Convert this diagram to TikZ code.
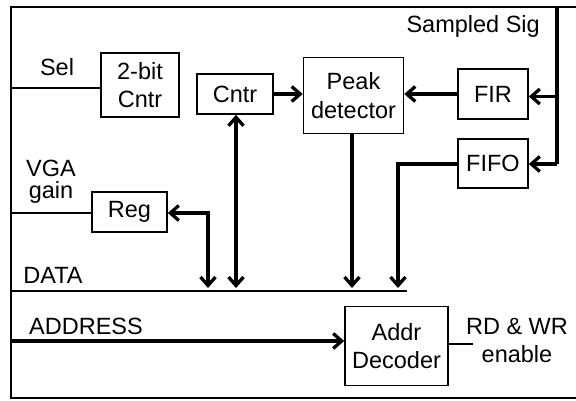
\documentclass[tikz,border=0pt]{standalone}
\usepackage{fontspec}
\setmainfont{Liberation Sans}
\usetikzlibrary{arrows.meta}
\begin{document}
\begin{tikzpicture}[x=1pt,y=-1pt,
  every node/.style={font=\fontsize{23.5}{28.5}\selectfont, inner sep=0pt},
  blk/.style={draw, line width=1.6pt, align=center},
  thin/.style={line width=2pt},
  sig/.style={line width=3.3pt, -{Straight Barb[length=8.5pt,width=15pt]}},
  bisig/.style={line width=3.3pt, {Straight Barb[length=8.5pt,width=15pt]}-{Straight Barb[length=8.5pt,width=15pt]}},
  lbl/.style={anchor=base}]
\useasboundingbox (0,0) rectangle (576,401);
% blocks
\node[blk, minimum width=78pt, minimum height=64pt] (cnt2) at (140,85) {2-bit\\Cntr};
\node[blk, minimum width=76pt, minimum height=40pt] (cntr) at (235,94) {Cntr};
\node[blk, minimum width=100pt, minimum height=76pt] (peak) at (353.5,95.5) {Peak\\detector};
\node[blk, minimum width=70pt, minimum height=50pt] (fir) at (493,94) {FIR};
\node[blk, minimum width=70pt, minimum height=49pt] (fifo) at (493,163.5) {FIFO};
\node[blk, minimum width=75pt, minimum height=40pt] (reg) at (129.5,212) {Reg};
\node[blk, minimum width=103pt, minimum height=79pt] (addr) at (396.5,346) {Addr\\Decoder};
% frame
\coordinate (tl) at (11,7);
\coordinate (tr) at (576,7);
\coordinate (bl) at (11,398);
\coordinate (br) at (576,398);
\coordinate (ss) at (557,7);
\draw[thin] (tr) -- (tl) -- (bl) -- (br);
% labels
\node[anchor=base east] (lss) at (540,33) {Sampled Sig};
\node[lbl] (lsel) at (57,76) {Sel};
\node[lbl] (lvga) at (51,177) {VGA};
\node[lbl] (lgain) at (51,199) {gain};
\node[lbl] (ldata) at (53,283) {DATA};
\node[lbl] (laddr) at (86,334) {ADDRESS};
\node[lbl] (lrd) at (517,334) {RD \& WR};
\node[lbl] (len) at (517,362) {enable};
% coordinates
\coordinate (sel) at (11,88);
\coordinate (vga) at (11,213);
\coordinate (d0) at (11,291);
\coordinate (d1) at (407,291);
\coordinate (a0) at (11,341);
\coordinate (rd) at (473,344);
\coordinate (fifoturn) at (398,164);
\coordinate (regturn) at (208,213);
% thin lines
\draw[thin] (sel) -- (sel -| cnt2.west);
\draw[thin] (vga) -- (vga -| reg.west);
\draw[line width=2.3pt] (d0) -- (d1);
\draw[thin] (addr.east |- rd) -- (rd);
% signal arrows
\draw[sig] (cntr.east) -- (cntr.east -| peak.west);
\draw[sig] (fir.west) -- (fir.west -| peak.east);
\draw[line width=3.3pt] (ss) -- (557,164);
\draw[sig] (557,96.5) -- (fir.east |- 0,96.5);
\draw[sig] (557,164) -- (fifo.east |- 0,164);
\draw[sig] (fifo.west |- fifoturn) -- (fifoturn) -- (398,288);
\draw[sig] (peak.south -| 352,0) -- (352,288);
\draw[bisig] (cntr.south -| 236,0) -- (236,288);
\draw[bisig] (reg.east |- regturn) -- (regturn) -- (208,288);
\draw[sig] (a0) -- (a0 -| addr.west);
\end{tikzpicture}
\end{document}
